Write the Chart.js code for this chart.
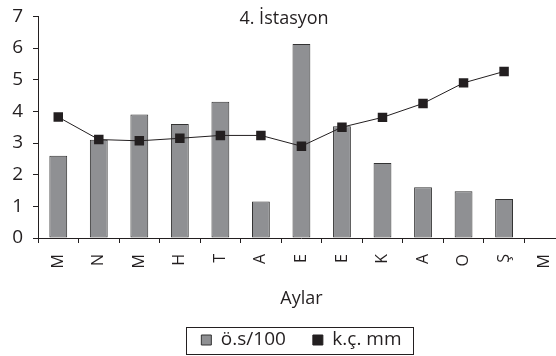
<!DOCTYPE html>
<html>
<head>
<meta charset="utf-8">
<script src="https://cdn.jsdelivr.net/npm/chart.js@4"></script>
<style>
html,body{margin:0;padding:0;background:#fff;overflow:hidden;}
#wrap{position:absolute;left:0;top:-5px;width:575px;height:361px;}
</style>
</head>
<body>
<div id="wrap"><canvas id="c"></canvas></div>
<script>
const categories = ['M','N','M','H','T','A','E','E','K','A','O','Ş','M'];
const osValues = [2.6, 3.1, 3.9, 3.6, 4.3, 1.15, 6.13, 3.53, 2.37, 1.6, 1.48, 1.23, null];
const kcValues = [3.82, 3.11, 3.07, 3.15, 3.24, 3.24, 2.9, 3.5, 3.81, 4.25, 4.9, 5.26, null];
const yTickValues = [0, 1, 2, 3, 4, 5, 6, 7];
const chartTitle = '4. İstasyon';
const xAxisTitle = 'Aylar';
const seriesNames = ['ö.s/100', 'k.ç. mm'];

const FONT = "'Open Sans', sans-serif";
const INK = '#231f20';

const titlePlugin = {
  id: 'innerTitle',
  afterDraw(chart) {
    const ctx = chart.ctx;
    ctx.save();
    ctx.font = "18px " + FONT;
    ctx.fillStyle = INK;
    ctx.textAlign = 'center';
    ctx.textBaseline = 'middle';
    ctx.fillText(chartTitle, 284, 24);
    ctx.restore();
  }
};

const legendBoxPlugin = {
  id: 'legendBox',
  afterDraw(chart) {
    const lg = chart.legend;
    if (!lg || !lg.legendHitBoxes || !lg.legendHitBoxes.length) return;
    const hb = lg.legendHitBoxes;
    let l = Infinity, r = -Infinity, t = Infinity, b = -Infinity;
    hb.forEach(h => { l = Math.min(l, h.left); r = Math.max(r, h.left + h.width); t = Math.min(t, h.top); b = Math.max(b, h.top + h.height); });
    const cy = (t + b) / 2;
    const ctx = chart.ctx;
    ctx.save();
    ctx.strokeStyle = INK;
    ctx.lineWidth = 1;
    ctx.strokeRect(Math.round(l - 15) + 0.5, Math.round(cy - 13.5) + 0.5, Math.round(r - l + 27), 27);
    ctx.restore();
  }
};

new Chart(document.getElementById('c'), {
  type: 'bar',
  data: {
    labels: categories,
    datasets: [
      {
        type: 'bar',
        label: seriesNames[0],
        data: osValues,
        backgroundColor: '#8f9093',
        borderColor: '#333333',
        borderWidth: 1,
        borderSkipped: false,
        barPercentage: 0.44,
        categoryPercentage: 1,
        order: 2
      },
      {
        type: 'line',
        label: seriesNames[1],
        data: kcValues,
        borderColor: INK,
        backgroundColor: INK,
        borderWidth: 1,
        pointStyle: 'rect',
        pointRadius: 6.7,
        pointHoverRadius: 6.7,
        pointBackgroundColor: INK,
        pointBorderColor: INK,
        pointBorderWidth: 0,
        tension: 0,
        order: 1
      }
    ]
  },
  options: {
    responsive: true,
    maintainAspectRatio: false,
    animation: false,
    layout: { autoPadding: false, padding: { left: 0, right: 5, top: 10.6, bottom: -3.5 } },
    plugins: {
      tooltip: { enabled: false },
      title: { display: false },
      legend: {
        position: 'bottom',
        fullSize: false,
        labels: {
          font: { family: FONT, size: 19 },
          color: INK,
          boxWidth: 10,
          boxHeight: 10,
          padding: 27,
          sort: (a, b) => a.datasetIndex - b.datasetIndex
        }
      }
    },
    scales: {
      x: {
        offset: true,
        afterFit(scale) { scale.height = 65.5; },
        grid: { display: true, offset: true, drawOnChartArea: false, drawTicks: true, tickLength: 5, color: INK },
        border: { display: true, color: INK, width: 1 },
        ticks: {
          font: { family: FONT, size: 16 },
          color: INK,
          minRotation: 90,
          maxRotation: 90,
          padding: 11,
          autoSkip: false
        },
        title: {
          display: true,
          text: xAxisTitle,
          font: { family: FONT, size: 18 },
          color: INK,
          padding: { top: 0, bottom: -5.8 }
        }
      },
      y: {
        min: 0,
        max: 7,
        afterBuildTicks(scale) { scale.ticks = yTickValues.map(v => ({ value: v })); },
        afterFit(scale) { scale.width = 38; },
        grid: { display: true, drawOnChartArea: false, drawTicks: true, tickLength: 5, color: INK },
        border: { display: true, color: INK, width: 1 },
        ticks: {
          font: { family: FONT, size: 19 },
          color: INK,
          padding: 10
        }
      }
    }
  },
  plugins: [titlePlugin, legendBoxPlugin]
});
</script>
</body>
</html>
